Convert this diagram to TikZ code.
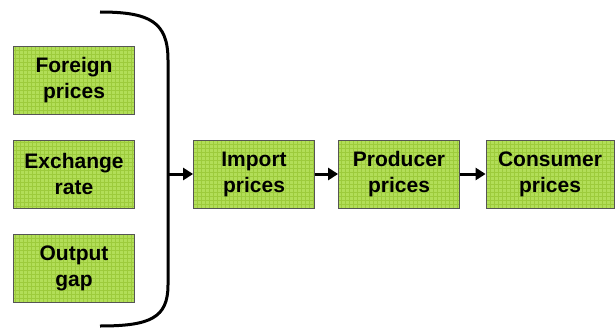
\documentclass[tikz,border=0pt]{standalone}
\usepackage{fontspec}
\setmainfont{Liberation Sans}
\usepackage{tikz}
\usetikzlibrary{arrows.meta,positioning}
\definecolor{boxgreen}{HTML}{B2DE58}
\definecolor{gridgreen}{HTML}{9DCB3C}
\definecolor{boxedge}{HTML}{555555}

\tikzset{
  pricebox/.style={draw=boxedge, line width=0.8pt, fill=boxgreen,
    minimum width=121pt, minimum height=68pt, inner sep=0pt,
    align=center, font=\fontsize{21}{26}\selectfont\bfseries,
    path picture={\draw[gridgreen, line width=0.5pt]
      (path picture bounding box.south west) grid[step=4pt]
      (path picture bounding box.north east);}},
  flow/.style={line width=3pt, -{Triangle[length=10pt,width=12pt]}}
}

\begin{document}
\begin{tikzpicture}[x=1pt,y=1pt]
  \useasboundingbox (0,0) rectangle (615,-329);
  % drivers
  \node[pricebox] (foreign)  at (74,-80)  {Foreign\\prices};
  \node[pricebox] (exchange) at (74,-174) {Exchange\\rate};
  \node[pricebox] (output)   at (74,-268) {Output\\gap};
  % bracket
  \draw[line width=3pt] (100,-12) .. controls (150,-12) and (168,-22) .. (168,-60)
    -- (168,-285) .. controls (168,-318) and (150,-326) .. (100,-326);
  \coordinate (join) at (168,-174);
  % pass-through chain
  \node[pricebox] (import)   at (254,-174) {Import\\prices};
  \node[pricebox] (producer) at (399,-174) {Producer\\prices};
  \node[pricebox, minimum width=128pt] (consumer) at (550,-174) {Consumer\\prices};
  \draw[flow] (join) -- (import);
  \draw[flow] (import) -- (producer);
  \draw[flow] (producer) -- (consumer);
\end{tikzpicture}
\end{document}
